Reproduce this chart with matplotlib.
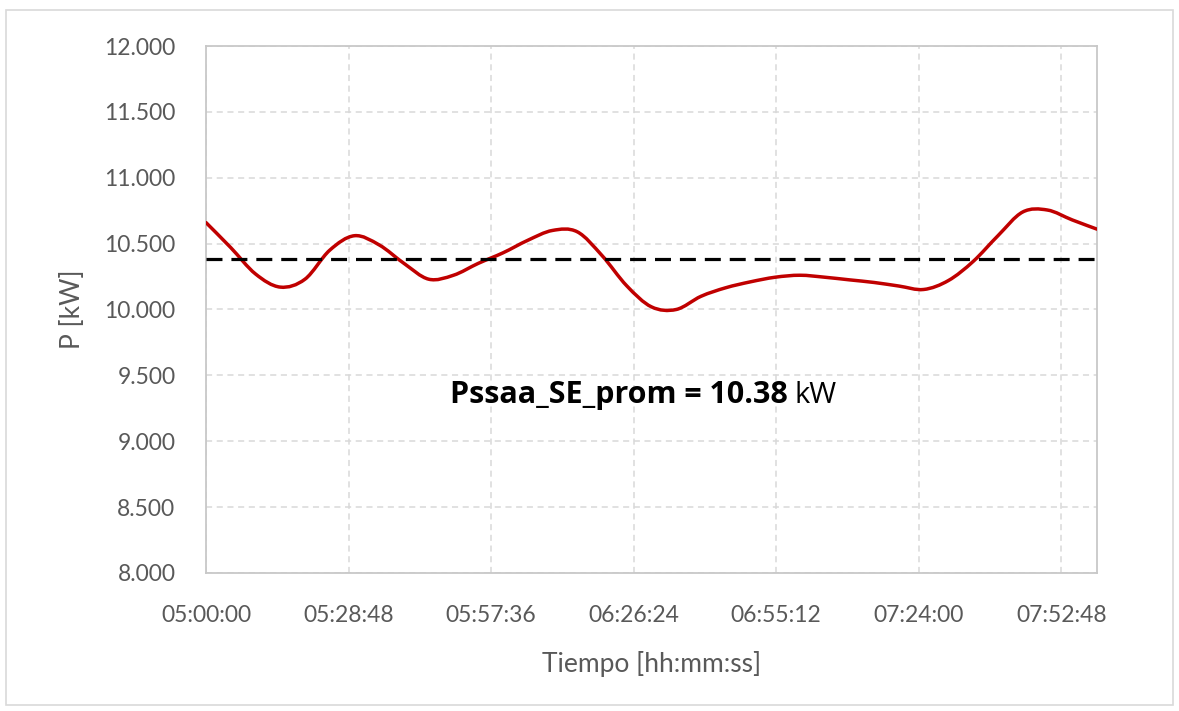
import numpy as np
import matplotlib
matplotlib.use("Agg")
import matplotlib.pyplot as plt
from matplotlib.ticker import FuncFormatter, MultipleLocator
from matplotlib.patches import Rectangle, PathPatch
from matplotlib.path import Path

# readings every 5 minutes from 05:00 to 08:00
times = ["05:00", "05:05", "05:10", "05:15", "05:20", "05:25", "05:30", "05:35",
         "05:40", "05:45", "05:50", "05:55", "06:00", "06:05", "06:10", "06:15",
         "06:20", "06:25", "06:30", "06:35", "06:40", "06:45", "06:50", "06:55",
         "07:00", "07:05", "07:10", "07:15", "07:20", "07:25", "07:30", "07:35",
         "07:40", "07:45", "07:50", "07:55", "08:00"]
power_kw = [10.66, 10.47, 10.27, 10.17, 10.23, 10.45, 10.56, 10.49,
            10.35, 10.23, 10.26, 10.35, 10.43, 10.525, 10.60, 10.59,
            10.41, 10.18, 10.02, 10.00, 10.10, 10.165, 10.21, 10.245,
            10.26, 10.245, 10.225, 10.205, 10.178, 10.152, 10.22, 10.365,
            10.56, 10.74, 10.755, 10.68, 10.61]
p_prom = 10.38

secs = np.array([int(t[:2]) * 3600 + int(t[3:]) * 60 for t in times], dtype=float)
vals = np.array(power_kw)

plt.rcParams['font.family'] = ['Lato', 'DejaVu Sans']
grey = '#595959'
grid_c = '#d9d9d9'


def smooth_path(x, y):
    # excel-like smoothed line: bezier segments through every point
    pts = np.column_stack([x, y])
    p = np.vstack([pts[0], pts, pts[-1]])
    verts = [pts[0]]
    codes = [Path.MOVETO]
    for i in range(1, len(p) - 2):
        c1 = p[i] + (p[i + 1] - p[i - 1]) / 6.0
        c2 = p[i + 1] - (p[i + 2] - p[i]) / 6.0
        verts += [c1, c2, p[i + 1]]
        codes += [Path.CURVE4] * 3
    return Path(verts, codes)


fig = plt.figure(figsize=(11.79, 7.11), dpi=100)
fig.patches.append(Rectangle((0.005, 0.008), 0.99, 0.978, transform=fig.transFigure,
                             facecolor='none', edgecolor='#d9d9d9', lw=1.2, zorder=-1))
ax = fig.add_axes([0.1747, 0.1941, 0.7557, 0.7412])

ax.add_patch(PathPatch(smooth_path(secs, vals), facecolor='none', edgecolor='#C00000',
                       lw=2.5, capstyle='round', zorder=3))
ax.axhline(p_prom, color='black', lw=2.3, dashes=(5, 2.8), zorder=4)

ax.set_xlim(secs[0], secs[-1])
ax.set_ylim(8, 12)
ax.set_xticks(np.arange(secs[0], secs[-1], 1728))
ax.yaxis.set_major_locator(MultipleLocator(0.5))


def hms(v, pos):
    v = int(round(v))
    return "%02d:%02d:%02d" % (v // 3600, (v % 3600) // 60, v % 60)


ax.xaxis.set_major_formatter(FuncFormatter(hms))
ax.yaxis.set_major_formatter(FuncFormatter(lambda v, p: "%d.%03d" % (int(v), round((v % 1) * 1000))))

ax.grid(True, color=grid_c, lw=1.1, ls=(0, (4, 3)))
ax.set_axisbelow(True)
for s in ax.spines.values():
    s.set_color('#c8c8c8')
    s.set_linewidth(1.3)
ax.tick_params(length=0, labelsize=16.5, colors=grey)
ax.tick_params(axis='x', pad=23)
ax.tick_params(axis='y', pad=22)

ax.set_xlabel("Tiempo [hh:mm:ss]", fontsize=19, color=grey, labelpad=18)
ax.set_ylabel("P [kW]", fontsize=19, color=grey, labelpad=14)

ax.text((788 - 206) / 891, 0.337, "Pssaa_SE_prom = %.2f" % p_prom, transform=ax.transAxes,
        ha='right', va='center', fontsize=22, fontweight='bold', color='black',
        family=['Open Sans', 'DejaVu Sans'])
ax.text((795 - 206) / 891, 0.337, "kW", transform=ax.transAxes,
        ha='left', va='center', fontsize=21, color='black',
        family=['Open Sans', 'DejaVu Sans'])

fig.savefig("out.png", dpi=100)
